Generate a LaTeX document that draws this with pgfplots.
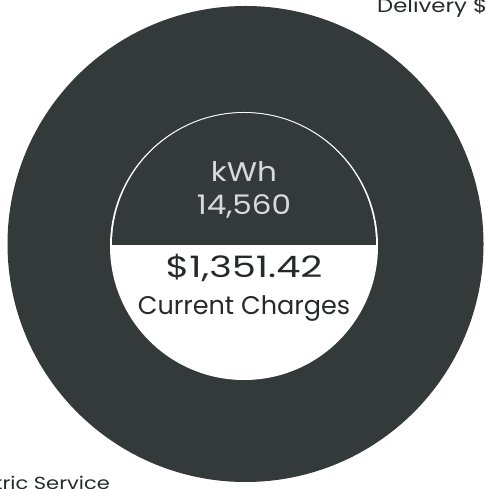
\documentclass[border=0pt]{standalone}
\usepackage{pgfplots}
\pgfplotsset{compat=1.18}
\usepackage{fontspec}
\setmainfont{Poppins}
\newfontfamily\widefont[FakeStretch=1.2]{Poppins}
\newfontfamily\numfont[FakeStretch=1.3]{Poppins}
\newfontfamily\kwfont[FakeStretch=1.15]{Poppins}
\definecolor{ring}{RGB}{52,58,58}
\definecolor{txt}{RGB}{40,42,42}
\begin{document}
\begin{tikzpicture}[x=1pt,y=1pt]
\useasboundingbox (0,0) rectangle (485,489);
\clip (0,0) rectangle (485,489);
\begin{axis}[at={(0,0)},anchor=south west,scale only axis,width=485pt,height=489pt,
  xmin=0,xmax=485,ymin=0,ymax=489,hide axis,clip=false]
% donut: total current charges (single ring)
\addplot[draw=none] coordinates {(245.5,245)};
\fill[ring] (axis cs:245.5,245) circle[radius=238pt];
\fill[white] (axis cs:244,243) circle[radius=134pt];
\fill[ring] (axis cs:112,244) arc[start angle=180,end angle=0,radius=132pt] -- cycle;
\node[anchor=base,text=black!15,font=\kwfont\fontsize{27}{30}\selectfont] at (axis cs:244,307) {kWh};
\node[anchor=base,text=black!15,font=\kwfont\fontsize{27}{30}\selectfont] at (axis cs:244,274) {14,560};
\node[anchor=base,text=txt,font=\numfont\fontsize{29.5}{32}\selectfont] at (axis cs:244,211) {\$1,351.42};
\node[anchor=base,text=txt,font=\fontsize{25.5}{28}\selectfont] at (axis cs:244,174) {Current Charges};
\node[anchor=base west,text=txt,font=\widefont\fontsize{19}{21}\selectfont,inner sep=0pt] at (axis cs:377,476) {Delivery \$};
\node[anchor=base east,text=txt,font=\widefont\fontsize{17.5}{20}\selectfont,inner sep=0pt] at (axis cs:110,-1) {Electric Service};
\end{axis}
\end{tikzpicture}
\end{document}
